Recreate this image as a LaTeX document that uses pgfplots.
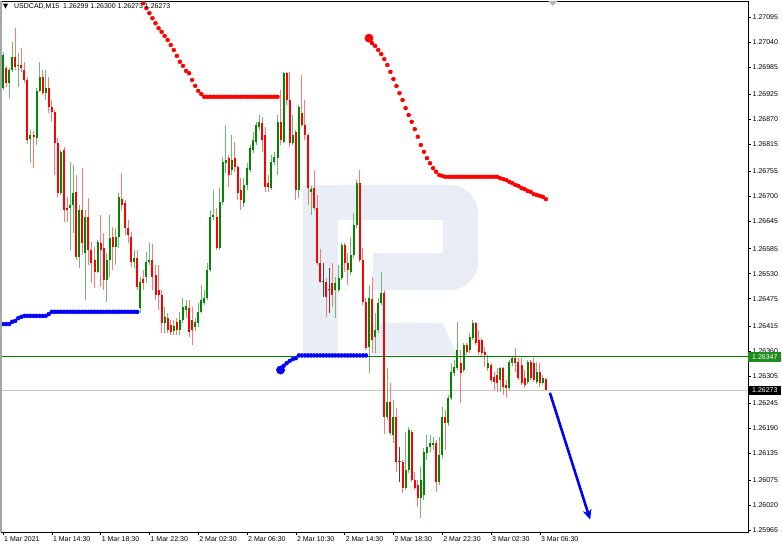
\documentclass[border=0pt]{standalone}
\usepackage{pgfplots}
\pgfplotsset{compat=1.18}
\usepackage{pgfplotstable}
\usepackage{fontspec}
\setmainfont{Liberation Sans}
\usetikzlibrary{arrows.meta}
\definecolor{bodyG}{RGB}{0,135,0}
\definecolor{wickG}{RGB}{110,185,110}
\definecolor{bodyR}{RGB}{255,0,0}
\definecolor{wickR}{RGB}{255,120,120}
\definecolor{dojiC}{RGB}{70,70,70}
\definecolor{wm}{RGB}{233,237,245}
\definecolor{lineG}{RGB}{0,128,0}
\definecolor{tagG}{RGB}{30,140,30}

\pgfplotstableread{
i o h l c t
0 1.26938 1.27018 1.26934 1.27011 1
1 1.26982 1.26987 1.26941 1.26949 -1
2 1.26949 1.26982 1.26916 1.26978 1
3 1.26978 1.27040 1.26974 1.27007 1
4 1.27007 1.27070 1.26978 1.26985 -1
5 1.26987 1.27015 1.26941 1.26989 1
6 1.26989 1.27026 1.26974 1.26982 -1
7 1.26978 1.26996 1.26949 1.26956 -1
8 1.26956 1.26963 1.26815 1.26824 -1
9 1.26826 1.26846 1.26773 1.26835 1
10 1.26835 1.26844 1.26762 1.26831 -1
11 1.26828 1.26938 1.26813 1.26932 1
12 1.26932 1.26996 1.26930 1.26963 1
13 1.26963 1.26978 1.26923 1.26927 -1
14 1.26927 1.26978 1.26912 1.26938 1
15 1.26938 1.26963 1.26883 1.26897 -1
16 1.26897 1.26912 1.26864 1.26886 -1
17 1.26886 1.26890 1.26747 1.26817 -1
18 1.26817 1.26828 1.26699 1.26707 -1
19 1.26707 1.26802 1.26703 1.26798 1
20 1.26802 1.26809 1.26644 1.26670 -1
21 1.26674 1.26699 1.26644 1.26670 -1
22 1.26674 1.26776 1.26582 1.26681 1
23 1.26681 1.26769 1.26619 1.26707 1
24 1.26710 1.26747 1.26560 1.26567 -1
25 1.26567 1.26681 1.26542 1.26670 1
26 1.26670 1.26762 1.26571 1.26597 -1
27 1.26575 1.26670 1.26472 1.26655 1
28 1.26655 1.26696 1.26549 1.26582 -1
29 1.26582 1.26600 1.26509 1.26553 -1
30 1.26560 1.26589 1.26498 1.26534 -1
31 1.26534 1.26604 1.26531 1.26600 1
32 1.26597 1.26659 1.26501 1.26582 -1
33 1.26586 1.26619 1.26494 1.26516 -1
34 1.26516 1.26575 1.26468 1.26560 1
35 1.26560 1.26659 1.26523 1.26608 1
36 1.26611 1.26633 1.26538 1.26589 -1
37 1.26589 1.26630 1.26549 1.26611 1
38 1.26611 1.26707 1.26586 1.26699 1
39 1.26694 1.26751 1.26670 1.26681 -1
40 1.26685 1.26692 1.26615 1.26630 -1
41 1.26630 1.26648 1.26597 1.26615 -1
42 1.26611 1.26622 1.26545 1.26556 -1
43 1.26556 1.26582 1.26542 1.26564 1
44 1.26564 1.26582 1.26494 1.26501 -1
45 1.26454 1.26523 1.26443 1.26512 1
46 1.26518 1.26538 1.26494 1.26509 -1
47 1.26523 1.26578 1.26509 1.26556 1
48 1.26556 1.26597 1.26549 1.26560 1
49 1.26560 1.26595 1.26494 1.26523 -1
50 1.26527 1.26549 1.26472 1.26483 -1
51 1.26494 1.26549 1.26450 1.26483 -1
52 1.26483 1.26494 1.26399 1.26421 -1
53 1.26421 1.26457 1.26399 1.26435 1
54 1.26432 1.26443 1.26399 1.26406 -1
55 1.26417 1.26428 1.26395 1.26402 -1
56 1.26404 1.26428 1.26395 1.26415 1
57 1.26424 1.26432 1.26395 1.26406 -1
58 1.26406 1.26446 1.26395 1.26428 1
59 1.26428 1.26476 1.26421 1.26457 1
60 1.26450 1.26472 1.26432 1.26459 1
61 1.26454 1.26472 1.26391 1.26402 -1
62 1.26428 1.26457 1.26373 1.26406 -1
63 1.26413 1.26432 1.26404 1.26424 1
64 1.26421 1.26465 1.26413 1.26446 1
65 1.26446 1.26505 1.26443 1.26472 1
66 1.26465 1.26494 1.26461 1.26476 1
67 1.26476 1.26553 1.26472 1.26538 1
68 1.26538 1.26670 1.26534 1.26655 1
69 1.26655 1.26714 1.26648 1.26659 1
70 1.26655 1.26674 1.26582 1.26586 -1
71 1.26586 1.26718 1.26582 1.26688 1
72 1.26688 1.26787 1.26681 1.26776 1
73 1.26773 1.26857 1.26751 1.26780 1
74 1.26784 1.26791 1.26721 1.26747 -1
75 1.26758 1.26835 1.26747 1.26780 1
76 1.26784 1.26820 1.26754 1.26765 -1
77 1.26765 1.26769 1.26692 1.26707 -1
78 1.26714 1.26740 1.26670 1.26692 -1
79 1.26685 1.26740 1.26677 1.26725 1
80 1.26725 1.26773 1.26714 1.26762 1
81 1.26758 1.26813 1.26754 1.26806 1
82 1.26802 1.26842 1.26795 1.26824 1
83 1.26820 1.26864 1.26813 1.26857 1
84 1.26853 1.26879 1.26846 1.26864 1
85 1.26861 1.26875 1.26798 1.26824 -1
86 1.26835 1.26853 1.26710 1.26721 -1
87 1.26729 1.26747 1.26710 1.26721 -1
88 1.26718 1.26791 1.26714 1.26776 1
89 1.26776 1.26798 1.26769 1.26787 1
90 1.26784 1.26879 1.26747 1.26864 1
91 1.26864 1.26934 1.26813 1.26824 -1
92 1.26820 1.26974 1.26817 1.26971 1
93 1.26971 1.26974 1.26901 1.26912 -1
94 1.26912 1.26974 1.26809 1.26817 -1
95 1.26817 1.26879 1.26813 1.26835 1
96 1.26842 1.26846 1.26692 1.26714 -1
97 1.26714 1.26901 1.26696 1.26897 1
98 1.26883 1.26967 1.26853 1.26857 -1
99 1.26857 1.26912 1.26824 1.26835 -1
100 1.26835 1.26839 1.26681 1.26718 -1
101 1.26710 1.26723 1.26659 1.26716 1
102 1.26718 1.26758 1.26670 1.26674 -1
103 1.26674 1.26703 1.26549 1.26553 -1
104 1.26553 1.26584 1.26509 1.26512 -1
105 1.26512 1.26553 1.26479 1.26512 0
106 1.26512 1.26520 1.26435 1.26479 -1
107 1.26494 1.26542 1.26443 1.26494 0
108 1.26509 1.26553 1.26457 1.26483 -1
109 1.26494 1.26523 1.26432 1.26509 1
110 1.26494 1.26549 1.26490 1.26520 1
111 1.26520 1.26597 1.26516 1.26593 1
112 1.26593 1.26597 1.26534 1.26553 -1
113 1.26553 1.26575 1.26505 1.26538 -1
114 1.26534 1.26611 1.26527 1.26571 1
115 1.26571 1.26663 1.26564 1.26637 1
116 1.26637 1.26736 1.26630 1.26729 1
117 1.26729 1.26758 1.26556 1.26560 -1
118 1.26560 1.26586 1.26461 1.26468 -1
119 1.26468 1.26476 1.26362 1.26366 -1
120 1.26369 1.26505 1.26311 1.26476 1
121 1.26474 1.26523 1.26355 1.26384 -1
122 1.26391 1.26443 1.26355 1.26406 1
123 1.26406 1.26476 1.26399 1.26465 1
124 1.26465 1.26534 1.26461 1.26487 1
125 1.26487 1.26494 1.26177 1.26215 -1
126 1.26215 1.26322 1.26208 1.26248 1
127 1.26248 1.26289 1.26175 1.26179 -1
128 1.26175 1.26252 1.26157 1.26215 1
129 1.26215 1.26234 1.26094 1.26116 -1
130 1.26116 1.26149 1.26072 1.26116 0
131 1.26116 1.26120 1.26047 1.26058 -1
132 1.26058 1.26182 1.26054 1.26098 1
133 1.26098 1.26193 1.26091 1.26186 1
134 1.26182 1.26186 1.26072 1.26076 -1
135 1.26076 1.26094 1.26054 1.26058 -1
136 1.26065 1.26076 1.26017 1.26036 -1
137 1.26036 1.26105 1.25992 1.26076 1
138 1.26043 1.26146 1.26032 1.26138 1
139 1.26135 1.26175 1.26120 1.26149 1
140 1.26149 1.26175 1.26138 1.26157 1
141 1.26153 1.26171 1.26142 1.26157 1
142 1.26157 1.26164 1.26050 1.26072 -1
143 1.26072 1.26171 1.26065 1.26131 1
144 1.26131 1.26237 1.26124 1.26215 1
145 1.26215 1.26230 1.26142 1.26201 -1
146 1.26201 1.26263 1.26195 1.26256 1
147 1.26256 1.26333 1.26252 1.26314 1
148 1.26311 1.26340 1.26305 1.26325 1
149 1.26322 1.26424 1.26318 1.26362 1
150 1.26333 1.26362 1.26245 1.26311 -1
151 1.26318 1.26377 1.26314 1.26373 1
152 1.26373 1.26377 1.26351 1.26358 -1
153 1.26362 1.26399 1.26355 1.26391 1
154 1.26388 1.26428 1.26384 1.26421 1
155 1.26421 1.26424 1.26373 1.26377 -1
156 1.26384 1.26406 1.26351 1.26358 -1
157 1.26384 1.26388 1.26347 1.26355 -1
158 1.26358 1.26369 1.26325 1.26351 -1
159 1.26322 1.26351 1.26316 1.26333 1
160 1.26329 1.26333 1.26292 1.26296 -1
161 1.26303 1.26314 1.26274 1.26292 -1
162 1.26307 1.26322 1.26270 1.26289 -1
163 1.26296 1.26325 1.26270 1.26322 1
164 1.26322 1.26325 1.26263 1.26281 -1
165 1.26285 1.26296 1.26256 1.26278 -1
166 1.26278 1.26340 1.26274 1.26336 1
167 1.26333 1.26347 1.26327 1.26344 1
168 1.26344 1.26366 1.26314 1.26333 -1
169 1.26336 1.26344 1.26296 1.26300 -1
170 1.26329 1.26344 1.26285 1.26289 -1
171 1.26300 1.26318 1.26278 1.26285 -1
172 1.26292 1.26340 1.26287 1.26336 1
173 1.26336 1.26340 1.26296 1.26300 -1
174 1.26333 1.26344 1.26292 1.26296 -1
175 1.26292 1.26336 1.26287 1.26314 1
176 1.26314 1.26333 1.26281 1.26289 -1
177 1.26289 1.26307 1.26285 1.26300 1
178 1.26299 1.26300 1.26273 1.26273 -1
}\candles

\pgfplotsset{
  candle/.style n args={3}{draw=none, mark=none, forget plot,
    restrict expr to domain={\thisrow{t}}{#1:#1},
    error bars/.cd, y dir=plus, y explicit, error mark=none,
    error bar style={draw=#2, solid, line cap=butt, line width=#3}},
}

\begin{document}
\begin{tikzpicture}
\begin{axis}[
  scale only axis, width=747pt, height=531pt,
  xmin=-0.66, xmax=244.26, ymin=1.259616, ymax=1.271298,
  clip mode=individual,
  axis line style={black, line width=0.8pt},
  tick align=outside, major tick length=3pt,
  tick style={black, line width=0.6pt},
  xtick pos=bottom, ytick pos=right, yticklabel pos=right,
  xtick={0,16,32,48,64,80,96,112,128,144,160,176},
  xticklabels={1 Mar 2021,1 Mar 14:30,1 Mar 18:30,1 Mar 22:30,2 Mar 02:30,2 Mar 06:30,2 Mar 10:30,2 Mar 14:30,2 Mar 18:30,2 Mar 22:30,3 Mar 02:30,3 Mar 06:30},
  ytick={1.25965,1.26020,1.26075,1.26135,1.26190,1.26245,1.26305,1.26360,1.26415,1.26475,1.26530,1.26585,1.26645,1.26700,1.26755,1.26815,1.26870,1.26925,1.26985,1.27040,1.27095},
  yticklabels={1.25965,1.26020,1.26075,1.26135,1.26190,1.26245,1.26305,1.26360,1.26415,1.26475,1.26530,1.26585,1.26645,1.26700,1.26755,1.26815,1.26870,1.26925,1.26985,1.27040,1.27095},
  scaled y ticks=false, scaled x ticks=false,
  xticklabel style={font=\fontsize{7}{8}\selectfont, anchor=north west, inner sep=0pt, xshift=1pt, yshift=-1pt},
  yticklabel style={font=\fontsize{7}{8}\selectfont, anchor=west, inner sep=0pt, xshift=1.5pt},
]
% watermark
\fill[wm] (axis cs:98.36,1.26725) rectangle (axis cs:109.84,1.26347);
\fill[wm] (axis cs:109.84,1.26725) [rounded corners=28pt] -- (axis cs:155.74,1.26725) -- (axis cs:155.74,1.26494) [sharp corners] -- (axis cs:121.31,1.26494) -- (axis cs:121.31,1.26575) -- (axis cs:144.26,1.26575) -- (axis cs:144.26,1.26648) -- (axis cs:109.84,1.26648) -- cycle;
\fill[wm] (axis cs:121.31,1.26421) -- (axis cs:144.26,1.26421) -- (axis cs:148.85,1.26351) -- (axis cs:121.31,1.26351) -- cycle;

% current price line
\addplot[gray!45, line width=0.7pt, forget plot] coordinates {(-1,1.26273) (245,1.26273)};

% wicks
\addplot[candle={1}{wickG}{1pt}]
  table[x=i, y=l, y error plus expr=\thisrow{h}-\thisrow{l}] {\candles};
\addplot[candle={-1}{wickR}{1pt}]
  table[x=i, y=l, y error plus expr=\thisrow{h}-\thisrow{l}] {\candles};
\addplot[candle={0}{dojiC}{1pt}]
  table[x=i, y=l, y error plus expr=\thisrow{h}-\thisrow{l}] {\candles};
% bodies
\addplot[candle={1}{bodyG}{2pt}]
  table[x=i, y=o, y error plus expr=\thisrow{c}-\thisrow{o}] {\candles};
\addplot[candle={-1}{bodyR}{2pt}]
  table[x=i, y=c, y error plus expr=\thisrow{o}-\thisrow{c}] {\candles};
\addplot[only marks, mark=-, mark size=1.1pt, color=dojiC, forget plot, restrict expr to domain={\thisrow{t}}{0:0}, mark options={line width=1pt}]
  table[x=i, y=o] {\candles};

% support / resistance line
\addplot[lineG, line width=1.3pt, forget plot] coordinates {(-1,1.26347) (245,1.26347)};

% trailing dots
\addplot[only marks, mark=*, mark size=2pt, blue, mark options={draw=blue, fill=blue}] coordinates {
(-1,1.26419)(0,1.26419)(1,1.26419)(2,1.26419)(3,1.26424)(4,1.26426)(5,1.26432)(6,1.26435)
(7,1.26437)(8,1.26437)(9,1.26437)(10,1.26437)(11,1.26437)(12,1.26437)(13,1.26437)(14,1.26437)
(15,1.26441)(16,1.26446)(17,1.26446)(18,1.26446)(19,1.26446)(20,1.26446)(21,1.26446)(22,1.26446)
(23,1.26446)(24,1.26446)(25,1.26446)(26,1.26446)(27,1.26446)(28,1.26446)(29,1.26446)(30,1.26446)
(31,1.26446)(32,1.26446)(33,1.26446)(34,1.26446)(35,1.26446)(36,1.26446)(37,1.26446)(38,1.26446)
(39,1.26446)(40,1.26446)(41,1.26446)(42,1.26446)(43,1.26446)(44,1.26446)};
\addplot[only marks, mark=*, mark size=2pt, red, mark options={draw=red, fill=red}] coordinates {
(44,1.27147)(45,1.27136)(46,1.27125)(47,1.27114)(48,1.27103)(49,1.27092)(50,1.27081)(51,1.27070)
(52,1.27062)(53,1.27053)(54,1.27044)(55,1.27033)(56,1.27022)(57,1.27009)(58,1.26996)(59,1.26987)
(60,1.26976)(61,1.26971)(62,1.26956)(63,1.26943)(64,1.26932)(65,1.26925)(66,1.26919)(67,1.26919)
(68,1.26919)(69,1.26919)(70,1.26919)(71,1.26919)(72,1.26919)(73,1.26919)(74,1.26919)(75,1.26919)
(76,1.26919)(77,1.26919)(78,1.26919)(79,1.26919)(80,1.26919)(81,1.26919)(82,1.26919)(83,1.26919)
(84,1.26919)(85,1.26919)(86,1.26919)(87,1.26919)(88,1.26919)(89,1.26919)(90,1.26919)};
\addplot[only marks, mark=*, mark size=4.2pt, blue, mark options={draw=blue, fill=blue}] coordinates {(91,1.26318)};
\addplot[only marks, mark=*, mark size=2pt, blue, mark options={draw=blue, fill=blue}] coordinates {
(92,1.26327)(93,1.26333)(94,1.26338)(95,1.26342)(96,1.26344)(97,1.26350)(98,1.26350)(99,1.26350)
(100,1.26350)(101,1.26350)(102,1.26350)(103,1.26350)(104,1.26350)(105,1.26350)(106,1.26350)(107,1.26350)
(108,1.26350)(109,1.26350)(110,1.26350)(111,1.26350)(112,1.26350)(113,1.26350)(114,1.26350)(115,1.26350)
(116,1.26350)(117,1.26350)(118,1.26350)(119,1.26350)};
\addplot[only marks, mark=*, mark size=4.2pt, red, mark options={draw=red, fill=red}] coordinates {(120,1.27048)};
\addplot[only marks, mark=*, mark size=2pt, red, mark options={draw=red, fill=red}] coordinates {
(121,1.27037)(122,1.27031)(123,1.27022)(124,1.27013)(125,1.27002)(126,1.26989)(127,1.26974)(128,1.26958)
(129,1.26943)(130,1.26927)(131,1.26912)(132,1.26894)(133,1.26879)(134,1.26864)(135,1.26848)(136,1.26831)
(137,1.26813)(138,1.26798)(139,1.26784)(140,1.26773)(141,1.26762)(142,1.26754)(143,1.26747)(144,1.26745)
(145,1.26743)(146,1.26743)(147,1.26743)(148,1.26743)(149,1.26743)(150,1.26743)(151,1.26743)(152,1.26743)
(153,1.26743)(154,1.26743)(155,1.26743)(156,1.26743)(157,1.26743)(158,1.26743)(159,1.26743)(160,1.26743)
(161,1.26743)(162,1.26743)(163,1.26740)(164,1.26738)(165,1.26736)(166,1.26732)(167,1.26729)(168,1.26725)
(169,1.26723)(170,1.26718)(171,1.26716)(172,1.26712)(173,1.26710)(174,1.26705)(175,1.26703)(176,1.26701)
(177,1.26699)(178,1.26694)};

% forecast arrow
\draw[blue, line width=2.6pt, -{Stealth[length=10pt,width=9pt]}] (axis cs:179.3,1.26268) -- (axis cs:192.5,1.25989);

% left gray border, chart-shift marker
\draw[gray!70, line width=1.5pt] (rel axis cs:0,0) -- (rel axis cs:0,1);
\fill[gray!55] (axis cs:178.7,1.27130) -- (axis cs:181.9,1.27130) -- (axis cs:180.3,1.27119) -- cycle;

% title
\fill[black] (axis cs:0,1.27124) -- (axis cs:1.64,1.27124) -- (axis cs:0.82,1.27113) -- cycle;
\node[anchor=west, inner sep=0pt, font=\fontsize{7}{8}\selectfont] at (axis cs:3.6,1.27117) {USDCAD,M15\ \ 1.26299 1.26300 1.26273 1.26273};

% price tags
\node[fill=tagG, text=white, anchor=west, inner sep=0pt, minimum height=9.5pt, minimum width=33pt, font=\fontsize{7}{8}\selectfont] at (axis cs:244.3,1.26347) {1.26347};
\node[fill=black, text=white, anchor=west, inner sep=0pt, minimum height=9.5pt, minimum width=33pt, font=\fontsize{7}{8}\selectfont] at (axis cs:244.3,1.26273) {1.26273};

\coordinate (sw) at (rel axis cs:0,0);
\end{axis}
\pgfresetboundingbox
\path (sw) ++(-1pt,-15pt) rectangle ++(782pt,547pt);
\end{tikzpicture}
\end{document}
